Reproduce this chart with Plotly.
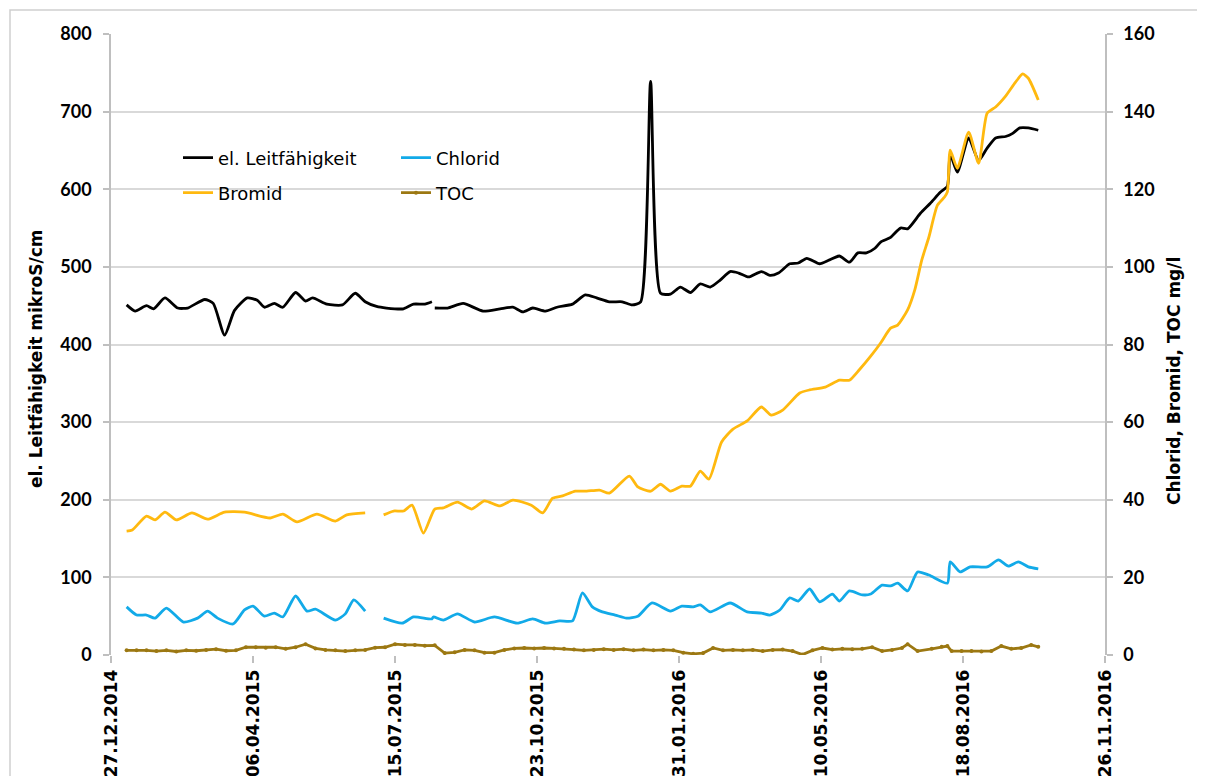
import plotly.graph_objects as go
import pandas as pd

START = "27.12.2014"
END = "26.11.2016"
x_tick_labels = ["27.12.2014", "06.04.2015", "15.07.2015", "23.10.2015",
                 "31.01.2016", "10.05.2016", "18.08.2016", "26.11.2016"]

# day offsets from 27.12.2014 ; None = gap in measurements
lf_days = [11, 17, 25, 30, 38, 47, 54, 66, 72, 80, 87, 96, 103, 108, 115, 121, 130, 137, 142,
           152, 163, 172, 179, 187, 194, 206, 213, 221, 226, None, 228, 237, 248, 262, 274,
           283, 290, 297, 306, 314, 325, 334, 342, 351, 360, 367, 373, 380, 387, 394, 401,
           408, 415, 422, 429, 436, 442, 449, 458, 464, 470, 478, 484, 490, 499, 506, 513,
           520, 526, 532, 538, 542, 549, 556, 561, 570, 577, 584, 589, 591, 596, 604, 611,
           617, 623, 630, 635, 640, 646, 653]
lf_vals = [451, 443, 450, 446, 460, 447, 447, 458, 453, 412, 444, 460, 457, 448, 453, 448, 467, 456, 460,
           452, 451, 466, 455, 449, 447, 446, 452, 452, 455, None, 447, 447, 453, 443, 446,
           448, 442, 447, 443, 448, 452, 464, 460, 455, 455, 451, 455, 739, 466, 465, 474,
           467, 478, 474, 483, 494, 492, 487, 494, 489, 492, 504, 505, 511, 504, 509, 514,
           506, 518, 518, 524, 532, 538, 550, 549, 569, 582, 596, 604, 645, 622, 666, 637,
           653, 666, 668, 672, 679, 679, 676]

chl_days = [11, 18, 25, 31, 39, 51, 61, 68, 75, 86, 94, 100, 108, 115, 121, 130, 138, 144, 158,
            165, 171, 179, None, 192, 205, 213, 226, 227, 234, 244, 256, 270, 286, 297, 306,
            316, 325, 332, 339, 346, 355, 363, 371, 381, 394, 402, 410, 415, 422, 436, 448,
            458, 464, 471, 478, 484, 492, 499, 508, 513, 520, 529, 535, 543, 549, 554, 561,
            568, 576, 589, 591, 598, 605, 617, 625, 632, 639, 646, 653]
chl_vals = [12.4, 10.3, 10.3, 9.5, 12.1, 8.5, 9.5, 11.3, 9.5, 8.0, 11.6, 12.6, 10.0, 10.8, 9.8, 15.2, 11.3, 11.8, 9.0,
            10.6, 14.2, 11.3, None, 9.5, 8.2, 9.8, 9.3, 9.8, 9.0, 10.6, 8.5, 9.8, 8.2, 9.3, 8.2,
            8.8, 8.8, 16.0, 12.4, 11.1, 10.3, 9.5, 10.0, 13.4, 11.3, 12.6, 12.4, 12.9, 11.1, 13.4, 11.1,
            10.8, 10.3, 11.6, 14.7, 13.9, 17.0, 13.7, 15.7, 13.9, 16.5, 15.5, 15.7, 18.0, 17.8, 18.5, 16.5,
            21.4, 20.6, 18.5, 24.0, 21.4, 22.7, 22.7, 24.5, 22.9, 24.0, 22.7, 22.2]

br_days = [11, 15, 25, 31, 38, 46, 57, 68, 80, 94, 112, 121, 131, 145, 158, 166, 179, None,
           192, 199, 206, 212, 220, 228, 234, 244, 254, 263, 274, 283, 296, 304, 311, 318, 327,
           335, 344, 351, 365, 371, 380, 387, 394, 402, 408, 415, 421, 430, 438, 448, 458, 465,
           473, 485, 492, 503, 513, 520, 527, 535, 542, 549, 554, 561, 566, 571, 576, 582, 587,
           589, 591, 596, 604, 611, 617, 623, 630, 637, 642, 646, 653]
br_vals = [31.9, 32.2, 35.8, 34.8, 36.8, 34.8, 36.6, 35.0, 36.8, 36.8, 35.3, 36.3, 34.3, 36.3, 34.5, 36.1, 36.6, None,
           36.1, 37.1, 37.1, 38.6, 31.4, 37.6, 37.9, 39.4, 37.6, 39.7, 38.4, 39.9, 38.6, 36.6, 40.4, 41.0, 42.2,
           42.2, 42.5, 41.7, 46.1, 43.3, 42.2, 44.0, 42.2, 43.5, 43.5, 47.4, 45.3, 54.9, 58.2, 60.3, 63.9, 61.8,
           63.1, 67.5, 68.3, 69.0, 70.8, 70.8, 73.5, 77.0, 80.4, 84.2, 85.0, 88.9, 94.0, 101.8, 107.7, 115.9, 118.0,
           119.3, 130.1, 125.4, 134.7, 126.7, 139.6, 141.2, 144.0, 147.6, 149.7, 148.6, 143.0]

toc_days = [11, 18, 25, 32, 39, 46, 53, 60, 67, 74, 81, 88, 95, 102, 109, 116, 123, 130, 137, 144,
            151, 158, 165, 172, 179, 186, 193, 200, 207, 214, 221, 228, 235, 242, 249, 256, 263,
            270, 277, 284, 291, 298, 305, 312, 319, 326, 333, 340, 347, 354, 361, 368, 375, 382,
            389, 396, 403, 410, 417, 424, 431, 438, 445, 452, 459, 466, 473, 480, 487, 494, 501,
            508, 515, 522, 529, 536, 543, 550, 557, 561, 568, 578, 585, 589, 592, 599, 606, 613,
            620, 627, 634, 641, 648, 653]
toc_vals = [1.2, 1.2, 1.2, 1.0, 1.2, 0.9, 1.2, 1.1, 1.3, 1.5, 1.1, 1.2, 2.0, 2.0, 1.9, 2.0, 1.6, 2.0, 2.8, 1.7,
            1.3, 1.2, 1.0, 1.2, 1.3, 1.9, 2.0, 2.8, 2.6, 2.6, 2.4, 2.5, 0.5, 0.7, 1.3, 1.2, 0.6,
            0.6, 1.3, 1.7, 1.8, 1.7, 1.8, 1.7, 1.6, 1.4, 1.2, 1.3, 1.5, 1.3, 1.5, 1.2, 1.4, 1.2,
            1.3, 1.2, 0.6, 0.3, 0.5, 1.8, 1.2, 1.3, 1.2, 1.3, 1.0, 1.3, 1.4, 1.0, 0.1, 1.2, 1.8,
            1.4, 1.6, 1.5, 1.6, 2.0, 1.0, 1.3, 1.8, 2.8, 1.0, 1.6, 2.1, 2.3, 1.0, 1.0, 1.0, 0.9,
            1.0, 2.3, 1.6, 1.8, 2.6, 2.1]

start = pd.to_datetime(START, format="%d.%m.%Y")
end = pd.to_datetime(END, format="%d.%m.%Y")


def to_dates(days):
    return [None if d is None else start + pd.Timedelta(days=d) for d in days]


tick_dates = [pd.to_datetime(t, format="%d.%m.%Y") for t in x_tick_labels]

TICKFONT = dict(family="Lato", size=18, color="#000000", weight="bold")
TITLEFONT = dict(family="DejaVu Sans", size=17, color="#000000", weight="bold")

fig = go.Figure()
fig.add_trace(go.Scatter(x=to_dates(lf_days), y=lf_vals, name="el. Leitfähigkeit", mode="lines",
                         line=dict(color="#000000", width=2.8, shape="spline", smoothing=0.6),
                         legend="legend"))
fig.add_trace(go.Scatter(x=to_dates(chl_days), y=chl_vals, name="Chlorid", mode="lines", yaxis="y2",
                         line=dict(color="#12AAE8", width=2.8, shape="spline", smoothing=0.6),
                         legend="legend"))
fig.add_trace(go.Scatter(x=to_dates(br_days), y=br_vals, name="Bromid", mode="lines", yaxis="y2",
                         line=dict(color="#FFB90F", width=2.8, shape="spline", smoothing=0.6),
                         legend="legend2"))
fig.add_trace(go.Scatter(x=to_dates(toc_days), y=toc_vals, name="TOC", mode="lines+markers", yaxis="y2",
                         line=dict(color="#9C7812", width=2.8),
                         marker=dict(color="#9C7812", size=4),
                         legend="legend2"))

OFF = 8  # page body margin
W, H = 1205 - OFF, 776 - OFF
L, T = 111 - OFF, 34 - OFF
pw, ph = 994, 621
R = W - L - pw
B = H - T - ph


def px_x(p):  # page pixel -> paper
    return (p - OFF - L) / pw


def px_y(p):
    return (T + ph - (p - OFF)) / ph


legend_common = dict(orientation="h", xanchor="left", yanchor="middle", bgcolor="rgba(0,0,0,0)",
                     font=dict(family="DejaVu Sans", size=18, color="#000000"), entrywidth=173,
                     entrywidthmode="pixels", itemwidth=30, tracegroupgap=0)

fig.update_layout(
    width=W, height=H,
    margin=dict(l=L, r=R, t=T, b=B, autoexpand=False),
    paper_bgcolor="white", plot_bgcolor="white",
    showlegend=True,
    legend=dict(x=px_x(178), y=px_y(158), **legend_common),
    legend2=dict(x=px_x(178), y=px_y(193), **legend_common),
    xaxis=dict(type="date", range=[start, end], tickvals=tick_dates, ticktext=x_tick_labels,
               tickangle=-90, tickfont=dict(family="DejaVu Sans", size=17, color="#000000", weight="bold"),
               showgrid=False, zeroline=False, showline=False, automargin=False,
               ticks="outside", ticklen=7, tickcolor="#BFBFBF", tickwidth=1.5, fixedrange=True),
    yaxis=dict(range=[0, 800], dtick=100, tick0=0, tickfont=TICKFONT, automargin=False,
               ticklabelstandoff=8,
               showgrid=True, gridcolor="#D9D9D9", gridwidth=1.5, zeroline=False,
               showline=True, linecolor="#BFBFBF", linewidth=1.5,
               ticks="outside", ticklen=6, tickcolor="#BFBFBF", tickwidth=1.5),
    yaxis2=dict(range=[0, 160], dtick=20, tick0=0, tickfont=TICKFONT, overlaying="y", side="right",
                ticklabelstandoff=7,
                showgrid=False, zeroline=False, automargin=False,
                showline=True, linecolor="#BFBFBF", linewidth=1.5,
                ticks="outside", ticklen=6, tickcolor="#BFBFBF", tickwidth=1.5),
    annotations=[
        dict(text="el. Leitfähigkeit mikroS/cm", xref="paper", yref="paper",
             x=px_x(24), y=px_y(359), textangle=-90, showarrow=False, font=TITLEFONT),
        dict(text="Chlorid, Bromid, TOC mg/l", xref="paper", yref="paper",
             x=px_x(1186), y=px_y(381), textangle=-90, showarrow=False, font=TITLEFONT),
    ],
    shapes=[dict(type="rect", xref="paper", yref="paper", x0=px_x(10), y0=px_y(800),
                 x1=px_x(1230), y1=px_y(10), line=dict(color="#CFCFCF", width=1.5), layer="below")],
)

fig.write_html("out.html")
